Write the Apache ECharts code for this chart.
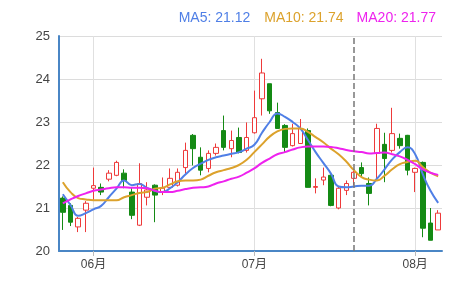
<!DOCTYPE html>
<html>
<head>
<meta charset="utf-8">
<script src="https://cdn.jsdelivr.net/npm/echarts@6/dist/echarts.min.js"></script>
<style>html,body{margin:0;padding:0;background:#fff}#c{width:473px;height:283px}</style>
</head>
<body>
<div id="c"></div>
<script>
var dates = ['2022-05-26','2022-05-27','2022-05-30','2022-05-31',
'2022-06-01','2022-06-02','2022-06-06','2022-06-07','2022-06-08','2022-06-09','2022-06-10','2022-06-13','2022-06-14','2022-06-15','2022-06-16','2022-06-17','2022-06-20','2022-06-21','2022-06-22','2022-06-23','2022-06-24','2022-06-27','2022-06-28','2022-06-29','2022-06-30',
'2022-07-01','2022-07-04','2022-07-05','2022-07-06','2022-07-07','2022-07-08','2022-07-11','2022-07-12','2022-07-13','2022-07-14','2022-07-15','2022-07-18','2022-07-19','2022-07-20','2022-07-21','2022-07-22','2022-07-25','2022-07-26','2022-07-27','2022-07-28','2022-07-29',
'2022-08-01','2022-08-02','2022-08-03','2022-08-04'];
// [open, close, low, high]
var kdata = [
[21.23,20.90,20.49,21.27],[21.06,20.67,20.58,21.11],[20.56,20.76,20.44,20.79],[20.95,21.11,20.44,21.16],
[21.46,21.52,21.18,21.94],[21.48,21.37,21.30,21.57],[21.67,21.81,21.62,21.88],[21.76,22.06,21.74,22.10],
[21.81,21.64,21.46,21.90],[21.37,20.83,20.74,21.48],[20.60,21.57,20.58,22.04],[21.25,21.42,21.06,21.60],
[21.53,21.30,20.67,21.55],[21.37,21.46,21.30,21.71],[21.48,21.69,21.46,21.92],[21.53,21.83,21.50,21.92],
[21.94,22.34,21.80,22.52],[22.69,22.38,21.99,22.72],[22.18,21.88,21.76,22.41],[21.92,22.27,21.83,22.34],
[22.27,22.41,22.22,22.50],[22.80,22.41,22.34,23.15],[22.38,22.57,22.18,22.80],[22.64,22.29,22.27,22.87],
[22.34,22.64,22.29,22.99],[22.75,23.10,22.73,23.73],[23.54,24.14,23.15,24.47],[23.89,23.26,23.19,23.89],
[23.22,22.85,22.85,23.45],[22.92,22.41,22.29,22.95],[22.45,22.73,22.43,22.96],[22.50,22.85,22.50,23.07],
[22.80,21.48,21.48,22.85],[21.48,21.50,21.34,21.69],[21.65,21.72,21.53,21.94],[21.76,21.06,21.04,21.78],
[21.00,21.46,20.97,21.50],[21.41,21.57,21.30,21.64],[21.69,21.83,21.53,21.87],[21.94,21.80,21.71,22.06],
[21.57,21.34,21.06,21.71],[22.27,22.85,21.64,22.96],[22.48,22.15,21.60,22.75],[22.34,22.73,22.29,23.33],
[22.62,22.45,22.38,22.73],[22.69,21.88,21.76,22.70],[21.83,21.92,21.37,21.94],[22.06,20.53,20.32,22.08],
[20.65,20.25,20.25,21.00],[20.49,20.88,20.49,20.95]];
var ma5 = [21.32,21.07,20.82,20.88,20.97,21.05,21.25,21.45,21.64,21.53,21.56,21.47,21.40,21.37,21.46,21.60,21.78,21.93,22.03,22.12,22.18,22.22,22.26,22.30,22.38,22.47,22.75,23.00,23.20,23.12,23.00,22.85,22.58,22.30,22.05,21.80,21.50,21.48,21.50,21.52,21.52,21.68,21.90,22.13,22.30,22.41,22.25,21.78,21.40,21.12];
var ma10 = [21.60,21.37,21.23,21.20,21.18,21.18,21.18,21.18,21.25,21.30,21.35,21.37,21.45,21.47,21.55,21.62,21.64,21.64,21.66,21.75,21.83,21.88,21.93,22.00,22.12,22.30,22.48,22.66,22.78,22.84,22.85,22.85,22.77,22.65,22.53,22.38,22.25,22.08,21.88,21.72,21.66,21.64,21.75,21.90,22.02,22.07,22.10,21.95,21.82,21.74];
var ma20 = [21.11,21.20,21.28,21.34,21.40,21.43,21.46,21.48,21.48,21.47,21.47,21.46,21.40,21.37,21.37,21.40,21.44,21.47,21.48,21.50,21.57,21.62,21.68,21.73,21.82,21.92,22.05,22.15,22.25,22.30,22.36,22.41,22.43,22.43,22.43,22.42,22.39,22.35,22.32,22.30,22.27,22.28,22.29,22.25,22.20,22.12,22.02,21.90,21.82,21.77];
var yTicks = [20, 21, 22, 23, 24, 25];
var markDate = '2022-07-20';

var FONT = "'Liberation Sans', Arial, 'Noto Sans CJK SC', sans-serif";
var C5 = '#4f7fe6', C10 = '#dca22c', C20 = '#ee22ee';
function monthStart(i) {
  return i > 0 && dates[i].slice(5, 7) !== dates[i - 1].slice(5, 7);
}
var chart = echarts.init(document.getElementById('c'));
chart.setOption({
  animation: false,
  textStyle: { fontFamily: FONT },
  title: {
    right: 32, top: 6,
    text: '{a|MA5: ' + ma5[ma5.length - 1].toFixed(2) + '}{b|MA10: ' + ma10[ma10.length - 1].toFixed(2) + '}{c|MA20: ' + ma20[ma20.length - 1].toFixed(2) + '}',
    textStyle: {
      fontFamily: FONT, fontWeight: 'normal',
      rich: {
        a: { color: C5, fontSize: 14, fontWeight: 'normal', fontFamily: FONT },
        b: { color: C10, fontSize: 14, fontWeight: 'normal', fontFamily: FONT, padding: [0, 0, 0, 14] },
        c: { color: C20, fontSize: 14, fontWeight: 'normal', fontFamily: FONT, padding: [0, 0, 0, 13] }
      }
    }
  },
  grid: { left: 59, right: 31, top: 36, bottom: 32 },
  xAxis: {
    type: 'category',
    data: dates,
    boundaryGap: true,
    axisLine: { lineStyle: { color: '#4a86c5', width: 2 } },
    axisTick: { show: true, alignWithLabel: true, interval: function (i) { return monthStart(i); }, lineStyle: { color: '#bbb' }, length: 5 },
    splitLine: { show: true, alignWithLabel: true, interval: function (i) { return monthStart(i); }, lineStyle: { color: '#e0e0e0' } },
    axisLabel: {
      interval: function (i) { return monthStart(i); },
      formatter: function (v) { return v.slice(5, 7) + '月'; },
      color: '#444', fontSize: 12, margin: 8, fontFamily: FONT
    }
  },
  yAxis: {
    type: 'value',
    min: yTicks[0], max: yTicks[yTicks.length - 1], interval: 1,
    axisLine: { show: true, lineStyle: { color: '#4a86c5', width: 2 } },
    axisTick: { show: false },
    splitLine: { lineStyle: { color: '#dcdcdc' } },
    axisLabel: { color: '#444', fontSize: 13, margin: 9, fontFamily: FONT }
  },
  series: [
    {
      type: 'candlestick',
      data: kdata,
      barWidth: 5,
      itemStyle: { color: '#ffffff', color0: '#148a14', borderColor: '#ee3a3a', borderColor0: '#148a14', borderWidth: 1 },
      markLine: {
        silent: true, symbol: 'none', label: { show: false },
        lineStyle: { color: '#777', type: 'dashed', width: 1.5 },
        data: [{ xAxis: markDate }]
      }
    },
    { type: 'line', data: ma5, smooth: true, showSymbol: false, lineStyle: { color: C5, width: 2 }, itemStyle: { color: C5 } },
    { type: 'line', data: ma10, smooth: true, showSymbol: false, lineStyle: { color: C10, width: 2 }, itemStyle: { color: C10 } },
    { type: 'line', data: ma20, smooth: true, showSymbol: false, lineStyle: { color: C20, width: 2 }, itemStyle: { color: C20 } }
  ]
});
</script>
</body>
</html>
